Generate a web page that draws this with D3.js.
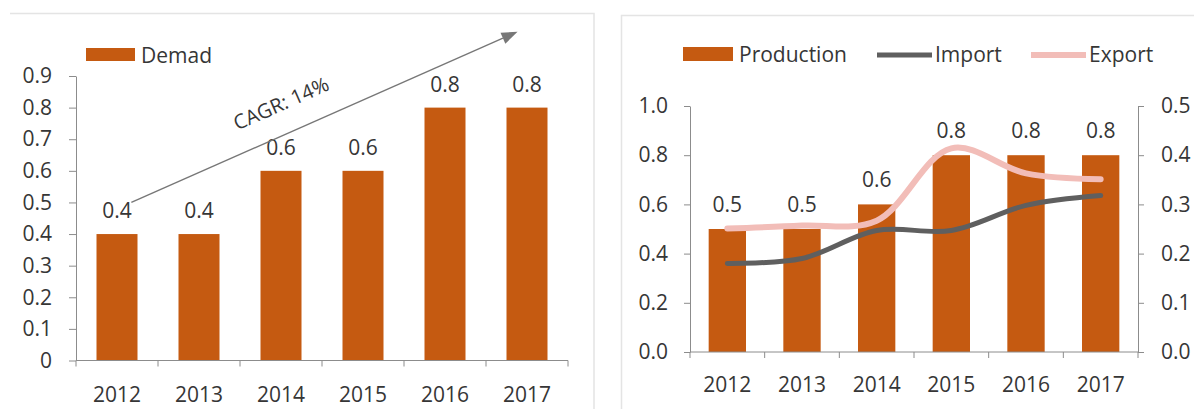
<!DOCTYPE html>
<html>
<head>
<meta charset="utf-8">
<script src="https://cdn.jsdelivr.net/npm/d3@7"></script>
<style>
  html, body { margin: 0; padding: 0; background: #fff; }
  svg { display: block; }
  text { font-family: "Open Sans", sans-serif; fill: #363636; }
</style>
</head>
<body>
<svg id="chart" width="1194" height="409"></svg>
<script>
// data
var years = ["2012", "2013", "2014", "2015", "2016", "2017"];
var demand = [0.4, 0.4, 0.6, 0.6, 0.8, 0.8];
var production = [0.5, 0.5, 0.6, 0.8, 0.8, 0.8];
var importVals = [0.18, 0.19, 0.247, 0.247, 0.298, 0.318];
var exportVals = [0.251, 0.257, 0.267, 0.414, 0.363, 0.351];
var leftTicks = [0, 0.1, 0.2, 0.3, 0.4, 0.5, 0.6, 0.7, 0.8, 0.9];
var prodTicks = [0, 0.2, 0.4, 0.6, 0.8, 1.0];
var tradeTicks = [0, 0.1, 0.2, 0.3, 0.4, 0.5];
var cagrLabel = "CAGR: 14%";

var barColor = "#C55A11";
var axisColor = "#8c8c8c";
var textColor = "#363636";
var fontSize = "21px";

var svg = d3.select("#chart");

// panel borders
var frame = svg.append("g").attr("fill", "none").attr("stroke", "#e4e4e4").attr("stroke-width", 1.5);
frame.append("path").attr("d", "M10,13.5H594V409");
frame.append("path").attr("d", "M621.5,409V15.5H1194");

// ---------- left chart: demand ----------
var x1 = d3.scaleBand().domain(years).range([76, 568]).paddingInner(0.5).paddingOuter(0.25);
var y1 = d3.scaleLinear().domain([0, 0.9]).range([360.5, 76]);

var g1 = svg.append("g");

g1.selectAll(".bar")
    .data(demand)
    .enter().append("rect")
    .attr("class", "bar")
    .attr("x", function(d, i) { return x1(years[i]); })
    .attr("y", function(d) { return y1(d); })
    .attr("width", x1.bandwidth())
    .attr("height", function(d) { return y1(0) - y1(d); })
    .attr("fill", barColor);

// y axis
g1.append("g")
    .attr("transform", "translate(" + x1.range()[0] + ",0)")
    .call(d3.axisLeft(y1).tickValues(leftTicks).tickSize(7).tickSizeOuter(0).tickPadding(17)
        .tickFormat(function(d) { return d === 0 ? "0" : d3.format(".1f")(d); }));

// x axis, ticks sit between categories
var xAxis1 = g1.append("g")
    .attr("transform", "translate(0," + y1(0) + ")")
    .call(d3.axisBottom(x1).tickSize(0).tickPadding(27));
xAxis1.select(".domain").remove();
g1.append("line")
    .attr("x1", x1.range()[0]).attr("x2", x1.range()[1])
    .attr("y1", y1(0)).attr("y2", y1(0));
g1.selectAll(".xb")
    .data(d3.range(years.length + 1))
    .enter().append("line")
    .attr("class", "xb")
    .attr("x1", function(i) { return x1.range()[0] + i * x1.step(); })
    .attr("x2", function(i) { return x1.range()[0] + i * x1.step(); })
    .attr("y1", y1(0)).attr("y2", y1(0) + 6);

// data labels
g1.selectAll(".lbl")
    .data(demand)
    .enter().append("text")
    .attr("class", "lbl")
    .attr("x", function(d, i) { return x1(years[i]) + x1.bandwidth() / 2; })
    .attr("y", function(d) { return y1(d) - 24; })
    .attr("text-anchor", "middle")
    .attr("dominant-baseline", "central")
    .text(function(d) { return d3.format(".1f")(d); });

// legend
g1.append("rect").attr("x", 86).attr("y", 48).attr("width", 49).attr("height", 13).attr("fill", barColor);
g1.append("text").attr("x", 141).attr("y", 55).attr("dominant-baseline", "central").text("Demad");

// CAGR arrow
var ax0 = x1(years[0]) + x1.bandwidth() * 0.85, ay0 = y1(0.5);
var ax1 = x1(years[5]) + x1.bandwidth() * 0.27, ay1 = y1(1.04);
var ang = Math.atan2(ay1 - ay0, ax1 - ax0);
var hl = 16, hw = 6;
var bx = ax1 - hl * Math.cos(ang), by = ay1 - hl * Math.sin(ang);
g1.append("line")
    .attr("x1", ax0).attr("y1", ay0).attr("x2", bx).attr("y2", by)
    .attr("stroke", "#777").attr("stroke-width", 1.4);
g1.append("path")
    .attr("d", "M" + ax1 + "," + ay1 +
        "L" + (bx + hw * Math.sin(ang)) + "," + (by - hw * Math.cos(ang)) +
        "L" + (bx - hw * Math.sin(ang)) + "," + (by + hw * Math.cos(ang)) + "Z")
    .attr("fill", "#777");
g1.append("text")
    .attr("transform", "translate(284,110) rotate(" + (ang * 180 / Math.PI) + ")")
    .attr("text-anchor", "middle")
    .attr("font-size", "20px")
    .text(cagrLabel);

// ---------- right chart: production / import / export ----------
var x2 = d3.scaleBand().domain(years).range([690, 1138]).paddingInner(0.5).paddingOuter(0.25);
var y2 = d3.scaleLinear().domain([0, 1.0]).range([352, 106]);
var y3 = d3.scaleLinear().domain([0, 0.5]).range([352, 106]);

var g2 = svg.append("g");

g2.selectAll(".bar")
    .data(production)
    .enter().append("rect")
    .attr("class", "bar")
    .attr("x", function(d, i) { return x2(years[i]); })
    .attr("y", function(d) { return y2(d); })
    .attr("width", x2.bandwidth())
    .attr("height", function(d) { return y2(0) - y2(d); })
    .attr("fill", barColor);

g2.append("g")
    .attr("transform", "translate(" + x2.range()[0] + ",0)")
    .call(d3.axisLeft(y2).tickValues(prodTicks).tickSize(6).tickSizeOuter(0).tickPadding(16)
        .tickFormat(d3.format(".1f")));
g2.append("g")
    .attr("transform", "translate(" + x2.range()[1] + ",0)")
    .call(d3.axisRight(y3).tickValues(tradeTicks).tickSize(6).tickSizeOuter(0).tickPadding(17)
        .tickFormat(d3.format(".1f")));

var xAxis2 = g2.append("g")
    .attr("transform", "translate(0," + y2(0) + ")")
    .call(d3.axisBottom(x2).tickSize(0).tickPadding(25));
xAxis2.select(".domain").remove();
g2.append("line")
    .attr("x1", x2.range()[0]).attr("x2", x2.range()[1])
    .attr("y1", y2(0)).attr("y2", y2(0));
g2.selectAll(".xb")
    .data(d3.range(years.length + 1))
    .enter().append("line")
    .attr("class", "xb")
    .attr("x1", function(i) { return x2.range()[0] + i * x2.step(); })
    .attr("x2", function(i) { return x2.range()[0] + i * x2.step(); })
    .attr("y1", y2(0)).attr("y2", y2(0) + 6);

var line = d3.line()
    .x(function(d, i) { return x2(years[i]) + x2.bandwidth() / 2; })
    .y(function(d) { return y3(d); })
    .curve(d3.curveCatmullRom.alpha(0.5));

g2.append("path").datum(importVals)
    .attr("d", line).attr("fill", "none")
    .attr("stroke", "#5f5f5f").attr("stroke-width", 5).attr("stroke-linecap", "round");
g2.append("path").datum(exportVals)
    .attr("d", line).attr("fill", "none")
    .attr("stroke", "#F2BDB8").attr("stroke-width", 6).attr("stroke-linecap", "round");

g2.selectAll(".lbl")
    .data(production)
    .enter().append("text")
    .attr("class", "lbl")
    .attr("x", function(d, i) { return x2(years[i]) + x2.bandwidth() / 2; })
    .attr("y", function(d) { return y2(d) - 25; })
    .attr("text-anchor", "middle")
    .attr("dominant-baseline", "central")
    .text(function(d) { return d3.format(".1f")(d); });

// legend
var lg = g2.append("g");
lg.append("rect").attr("x", 683).attr("y", 47).attr("width", 50).attr("height", 14).attr("fill", barColor);
lg.append("text").attr("x", 739).attr("y", 54).attr("dominant-baseline", "central").text("Production");
lg.append("line").attr("x1", 877).attr("x2", 932).attr("y1", 55).attr("y2", 55)
    .attr("stroke", "#5f5f5f").attr("stroke-width", 5);
lg.append("text").attr("x", 935).attr("y", 54).attr("dominant-baseline", "central").text("Import");
lg.append("line").attr("x1", 1031).attr("x2", 1086).attr("y1", 55).attr("y2", 55)
    .attr("stroke", "#F2BDB8").attr("stroke-width", 6);
lg.append("text").attr("x", 1089).attr("y", 54).attr("dominant-baseline", "central").text("Export");

// common axis styling
svg.selectAll(".domain, .tick line, .xb").attr("stroke", axisColor);
svg.selectAll("g > line:not([stroke])").attr("stroke", axisColor);
svg.selectAll("text").attr("fill", textColor)
    .attr("font-family", "'Open Sans', sans-serif")
    .style("font-size", function() { return this.getAttribute("font-size") || fontSize; });
</script>
</body>
</html>
